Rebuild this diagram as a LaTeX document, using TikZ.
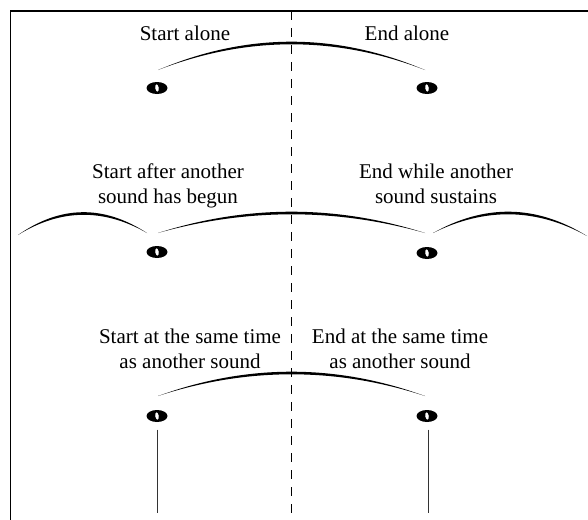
\documentclass[tikz,border=0pt]{standalone}
\usepackage{fontspec}
\setmainfont{Liberation Serif}
\newcommand\myslur[5]{%
  \pgfmathsetmacro\sa{#1+(#3-#1)/3}%
  \pgfmathsetmacro\sb{#1+2*(#3-#1)/3}%
  \pgfmathsetmacro\hu{(#2+#4)/2-4/3*(#5+1.3)}%
  \pgfmathsetmacro\hl{(#2+#4)/2-4/3*(#5-1.3)}%
  \fill (#1,#2) .. controls (\sa,\hu) and (\sb,\hu) .. (#3,#4) .. controls (\sb,\hl) and (\sa,\hl) .. cycle;}
\tikzset{
  lbl/.style={font=\fontsize{21}{25}\selectfont, align=center, anchor=base, inner sep=0pt},
  notehead/.style={minimum width=22pt, minimum height=13pt, inner sep=0pt,
    path picture={\fill[even odd rule] (path picture bounding box.center) ellipse[x radius=10.5pt, y radius=6pt]
      (path picture bounding box.center) ellipse[x radius=1.8pt, y radius=3.9pt, rotate=8];}},
  frame/.style={line width=1.6pt},
  divider/.style={line width=0.9pt, dash pattern=on 9pt off 8pt},
  stem/.style={line width=0.8pt, black!80}
}
\begin{document}
\begin{tikzpicture}[x=1pt, y=-1pt]
\useasboundingbox (0,0) rectangle (588,519);
% frame and divider
\coordinate (ftop) at (10.5,11);
\coordinate (fbl) at (10.5,520);
\coordinate (ftr) at (589,11);
\draw[frame] (fbl) -- (ftop) -- (ftr);
\coordinate (dtop) at (291.5,11);
\coordinate (dbot) at (291.5,519);
\draw[divider] (dtop) -- (dbot);
% row 1
\node[lbl] (t1l) at (185,41) {Start alone};
\node[lbl] (t1r) at (407,41) {End alone};
\node[notehead] (n1l) at (157,88) {};
\node[notehead] (n1r) at (427,88) {};
\myslur{158}{70}{425}{70}{27}
% row 2
\node[lbl] (t2l) at (168,203) {Start after another\\sound has begun};
\node[lbl] (t2r) at (436,203) {End while another\\sound sustains};
\node[notehead] (n2l) at (157,252) {};
\node[notehead] (n2r) at (427,253) {};
\myslur{18}{235}{147}{233}{20.5}
\myslur{158}{233}{425}{233}{20}
\myslur{433}{233}{587}{236}{21.5}
% row 3
\node[lbl] (t3l) at (190,368) {Start at the same time\\as another sound};
\node[lbl] (t3r) at (400,368) {End at the same time\\as another sound};
\node[notehead] (n3l) at (157,416) {};
\node[notehead] (n3r) at (427,416) {};
\myslur{158}{396}{425}{396}{23}
\coordinate (e3l) at (157,513);
\coordinate (e3r) at (428,513);
\draw[stem] (n3l.south) ++(0,7) -- (e3l);
\draw[stem] (n3r.south -| e3r) ++(0,7) -- (e3r);
\end{tikzpicture}
\end{document}
